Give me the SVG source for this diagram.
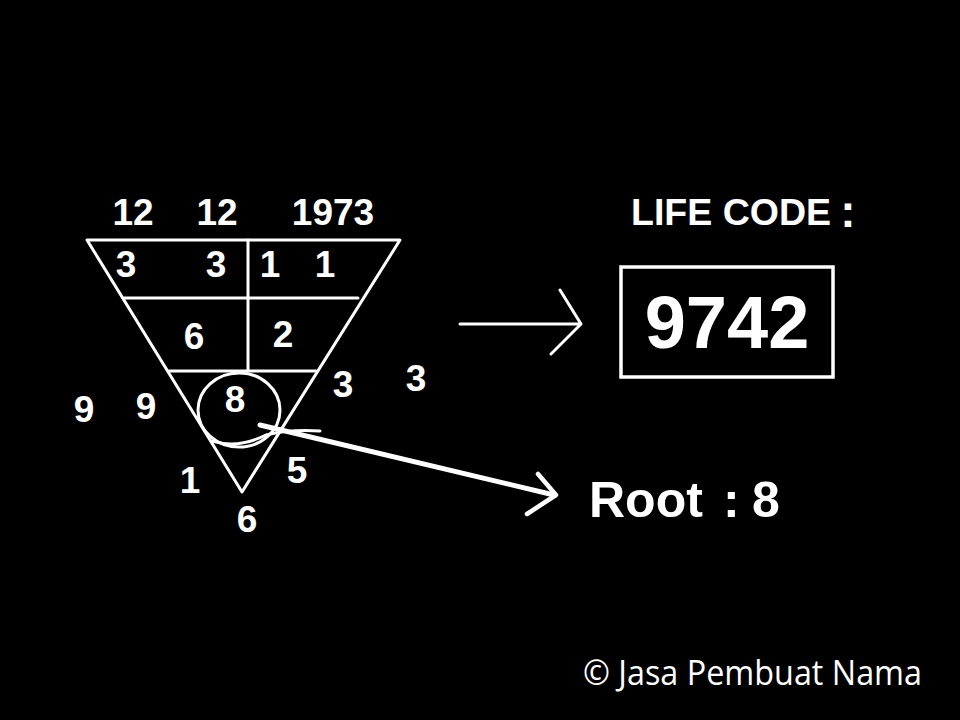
<svg xmlns="http://www.w3.org/2000/svg" width="960" height="720" viewBox="0 0 960 720">
<style>
.ln{stroke:#fff;stroke-width:3;fill:none;stroke-linecap:round;stroke-linejoin:round}
.num{font-family:"Liberation Sans",Arial,sans-serif;font-weight:bold;font-size:37px;fill:#fff;text-anchor:middle}
.lbl{font-family:"Liberation Sans",Arial,sans-serif;font-weight:bold;fill:#fff}
</style>
<rect width="960" height="720" fill="#000"/>
<g id="triangle">
<path class="ln" d="M87,240 L400,240 L242,492 Z"/>
<line class="ln" x1="248" y1="240" x2="248" y2="371"/>
<line class="ln" x1="124" y1="298" x2="358" y2="298"/>
<line class="ln" x1="169" y1="371" x2="316" y2="371"/>
</g>
<g id="root-circle">
<ellipse class="ln" cx="239" cy="410" rx="41" ry="37"/>
</g>
<g id="numbers">
<text class="num" x="133" y="225">12</text>
<text class="num" x="217" y="225">12</text>
<text class="num" x="333" y="225">1973</text>
<text class="num" x="126" y="277">3</text>
<text class="num" x="216" y="277">3</text>
<text class="num" x="270" y="277">1</text>
<text class="num" x="325" y="277">1</text>
<text class="num" x="194" y="349">6</text>
<text class="num" x="283" y="347">2</text>
<text class="num" x="235" y="412">8</text>
<text class="num" x="84" y="422">9</text>
<text class="num" x="146" y="419">9</text>
<text class="num" x="343" y="397">3</text>
<text class="num" x="416" y="391">3</text>
<text class="num" x="190" y="493">1</text>
<text class="num" x="297" y="483">5</text>
<text class="num" x="247" y="532">6</text>
</g>
<g id="life-code">
<text class="lbl" x="631" y="225" font-size="36" textLength="200" lengthAdjust="spacingAndGlyphs">LIFE CODE</text>
<text class="lbl" x="848" y="227" font-size="46" text-anchor="middle">:</text>
<rect x="621" y="267" width="212" height="110" fill="none" stroke="#fff" stroke-width="3.5"/>
<text class="lbl" x="727" y="348" font-size="74" text-anchor="middle">9742</text>
</g>
<g id="root-label">
<text class="lbl" x="589" y="517" font-size="50">Root <tspan x="723">:</tspan> <tspan x="752">8</tspan></text>
</g>
<g id="connectors">
<path class="ln" d="M460,324 L581,324 M560,290 L581,324 L551,354"/>
<path class="ln" d="M212,441 Q238,449 266,435 Q290,429 320,431"/>
<line x1="260" y1="425" x2="554" y2="495" stroke="#fff" stroke-width="5" stroke-linecap="round"/>
<path d="M538,474 L556,495 L527,514" fill="none" stroke="#fff" stroke-width="4.5" stroke-linecap="round" stroke-linejoin="round"/>
</g>
<g id="copyright">
<text x="583" y="685" font-family="'Open Sans','Liberation Sans',sans-serif" font-size="34" fill="#fff" textLength="339" lengthAdjust="spacingAndGlyphs">© Jasa Pembuat Nama</text>
</g>
</svg>
